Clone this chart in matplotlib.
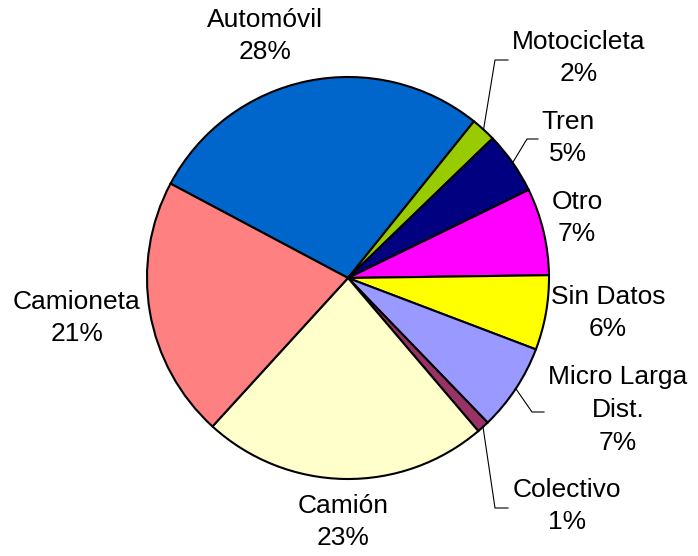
import numpy as np
import matplotlib.pyplot as plt

plt.rcParams['font.family'] = ['Liberation Sans', 'DejaVu Sans']

# slices, clockwise from the top-left edge of Automóvil
labels = ['Automóvil', 'Motocicleta', 'Tren', 'Otro', 'Sin Datos',
          'Micro Larga\nDist.', 'Colectivo', 'Camión', 'Camioneta']
values = [28, 2, 5, 7, 6, 7, 1, 23, 21]
colors = ['#0066CC', '#99CC00', '#000080', '#FF00FF', '#FFFF00',
          '#9999FF', '#993366', '#FFFFCC', '#FF8080']

H = 556
cx, cy, R = 348, H - 278, 201

# label centres (pixel coords, y from top)
label_pos = [(265, 36), (579, 58), (568, 138), (577, 218), (608, 313),
             (618, 410), (567, 506), (343, 522), (77, 318)]
# leader lines: elbow and end point (pixel coords, y from top)
leaders = {1: [(495, 60), (508, 60)],
           2: [(527, 139), (538, 139)],
           5: [(532, 412), (544, 412)],
           6: [(495, 508), (508, 508)]}

fig = plt.figure(figsize=(6.98, 5.56), dpi=100)
ax = fig.add_axes([0, 0, 1, 1])

wedges, _ = ax.pie(values, colors=colors, startangle=152, counterclock=False,
                   center=(cx, cy), radius=R, frame=True,
                   wedgeprops=dict(edgecolor='black', linewidth=1.5))
ax.set_xlim(0, 698)
ax.set_ylim(0, H)
ax.set_aspect('equal')
ax.axis('off')

total = sum(values)
for i, (lab, v) in enumerate(zip(labels, values)):
    x, y = label_pos[i]
    ax.text(x, H - y, f'{lab}\n{round(100 * v / total)}%', ha='center', va='center',
            fontsize=19, linespacing=1.45, multialignment='center')

for i, pts in leaders.items():
    w = wedges[i]
    mid = np.deg2rad((w.theta1 + w.theta2) / 2)
    xs = [cx + R * np.cos(mid)] + [p[0] for p in pts]
    ys = [cy + R * np.sin(mid)] + [H - p[1] for p in pts]
    ax.plot(xs, ys, color='black', linewidth=0.8)

fig.savefig('out.png', dpi=100)
